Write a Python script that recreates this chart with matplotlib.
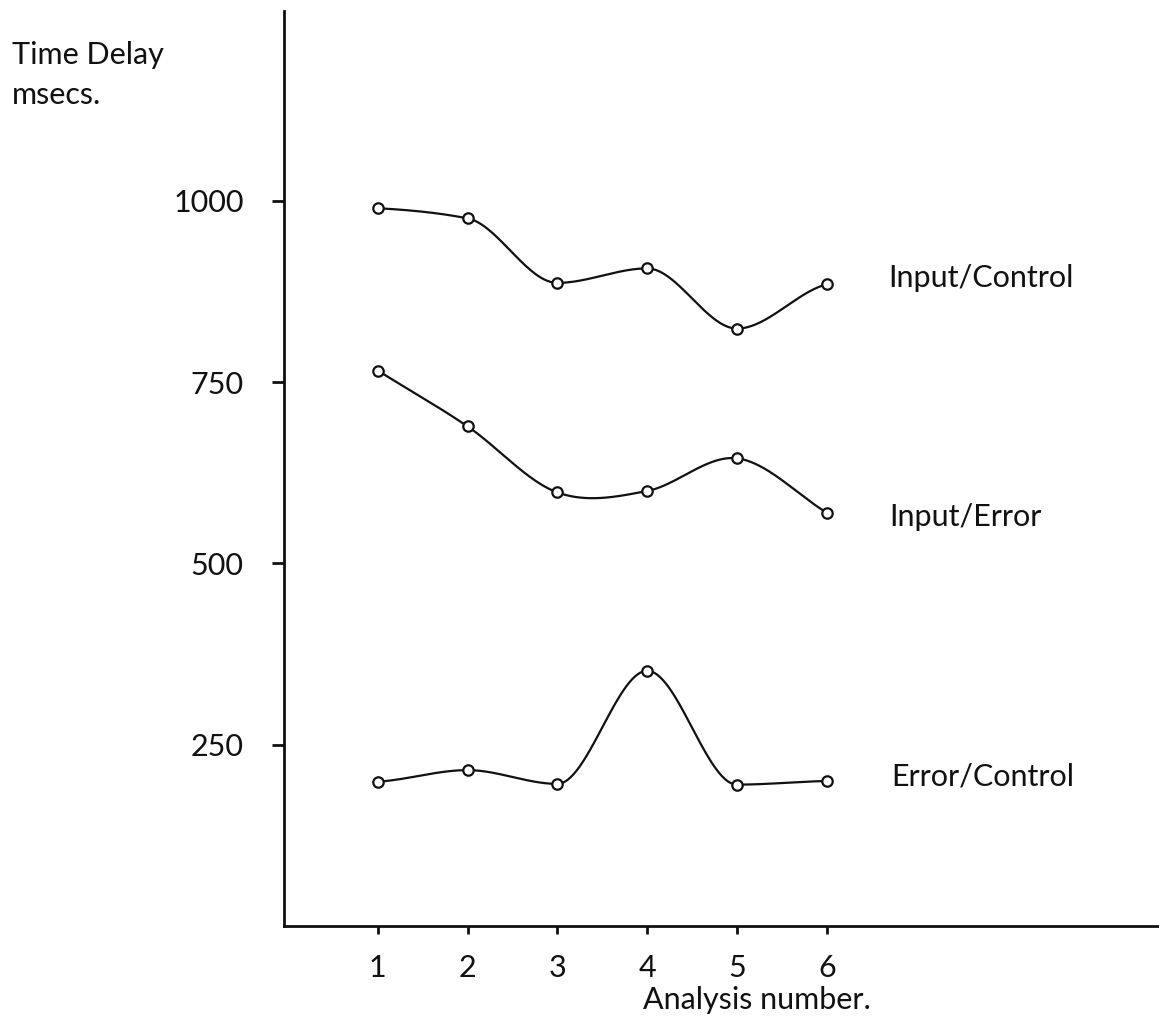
import numpy as np
import matplotlib
matplotlib.use("Agg")
import matplotlib.pyplot as plt

# ---- data ----
analysis = [1, 2, 3, 4, 5, 6]
input_control = [990, 976, 887, 907, 824, 885]
input_error = [766, 689, 598, 600, 645, 570]
error_control = [199, 215, 196, 352, 195, 200]

y_ticks = [250, 500, 750, 1000]
y_tick_labels = ["250", "500", "750", "1000"]
x_tick_labels = ["1", "2", "3", "4", "5", "6"]

series = [
    ("Input/Control", input_control, "pchip"),
    ("Input/Error", input_error, "catmull"),
    ("Error/Control", error_control, "pchip"),
]

plt.rcParams['font.family'] = ['Lato', 'DejaVu Sans']
FONT = dict(family=['Lato', 'DejaVu Sans'], weight='normal', color='#111111')


def tangents(x, y, method):
    x = np.asarray(x, float)
    y = np.asarray(y, float)
    n = len(x)
    d = np.diff(y) / np.diff(x)
    m = np.zeros(n)
    if method == "catmull":
        m[1:-1] = (y[2:] - y[:-2]) / (x[2:] - x[:-2])
        m[0] = d[0]
        m[-1] = d[-1]
    else:  # pchip-like
        for i in range(1, n - 1):
            if d[i - 1] * d[i] <= 0:
                m[i] = 0.0
            else:
                m[i] = 2.0 / (1.0 / d[i - 1] + 1.0 / d[i])
        m[0] = d[0] * 0.5
        m[-1] = d[-1] * 0.5
    return m


def smooth(x, y, method, steps=60):
    x = np.asarray(x, float)
    y = np.asarray(y, float)
    m = tangents(x, y, method)
    xs, ys = [], []
    for i in range(len(x) - 1):
        h = x[i + 1] - x[i]
        t = np.linspace(0, 1, steps, endpoint=(i == len(x) - 2))
        h00 = 2 * t**3 - 3 * t**2 + 1
        h10 = t**3 - 2 * t**2 + t
        h01 = -2 * t**3 + 3 * t**2
        h11 = t**3 - t**2
        xs.append(x[i] + t * h)
        ys.append(h00 * y[i] + h10 * h * m[i] + h01 * y[i + 1] + h11 * h * m[i + 1])
    return np.concatenate(xs), np.concatenate(ys)


W, H = 1159, 1019
fig = plt.figure(figsize=(W / 100, H / 100), dpi=100)
left_px, bottom_px, top_px = 284, 926, 11
ax = fig.add_axes([left_px / W, 1 - bottom_px / H, 1 - left_px / W, (bottom_px - top_px) / H])
ax.set_xlim(-0.045, 9.70)
ax.set_ylim(0, 1262)

for name, vals, method in series:
    xs, ys = smooth(analysis, vals, method)
    ax.plot(xs, ys, color='#111111', lw=1.6, solid_capstyle='round', zorder=2)
    ax.plot(analysis, vals, linestyle='none', marker='o', markersize=7.5,
            markerfacecolor='white', markeredgecolor='#111111', markeredgewidth=1.6, zorder=3)

# series labels
label_pos = {"Input/Control": (6.68, 894), "Input/Error": (6.70, 564), "Error/Control": (6.72, 206)}
for name, vals, method in series:
    lx, ly = label_pos[name]
    ax.text(lx, ly, name, ha='left', va='center', fontsize=22, **FONT)

for s in ['top', 'right']:
    ax.spines[s].set_visible(False)
for s in ['left', 'bottom']:
    ax.spines[s].set_linewidth(2.0)
    ax.spines[s].set_color('#111111')

ax.set_yticks(y_ticks)
ax.set_yticklabels(y_tick_labels, fontdict=dict(fontsize=22, **FONT))
ax.set_xticks(analysis)
ax.set_xticklabels(x_tick_labels, fontdict=dict(fontsize=22, **FONT))
ax.tick_params(axis='y', direction='out', length=9, width=2, pad=20, colors='#111111')
ax.tick_params(axis='x', direction='out', length=6, width=2, pad=14, colors='#111111')

fig.text(12 / W, 1 - 55 / H, "Time Delay", ha='left', va='center', fontsize=22, **FONT)
fig.text(12 / W, 1 - 95 / H, "msecs.", ha='left', va='center', fontsize=22, **FONT)
fig.text(643 / W, 1 - 1000 / H, "Analysis number.", ha='left', va='center', fontsize=22, **FONT)

fig.savefig("out.png", dpi=100, facecolor='white')
